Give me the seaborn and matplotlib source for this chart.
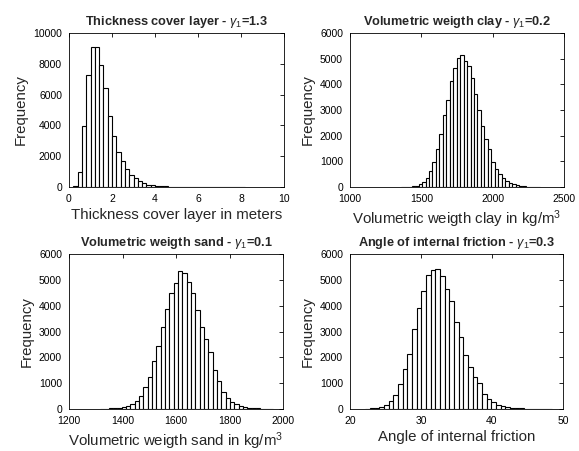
import numpy as np
import pandas as pd
import matplotlib
matplotlib.use("Agg")
import matplotlib.pyplot as plt
import seaborn as sns

# ---------------- data ----------------
# Thickness cover layer (m): 40 bins, start 0.2, width 0.2
thick_start, thick_width = 0.2, 0.2
thick_counts = [60, 950, 3950, 7250, 9080, 9080, 7950, 6430, 4580, 3320,
                2270, 1710, 1200, 790, 560, 360, 240, 160, 100, 70,
                45, 35, 25, 20, 15, 12, 10, 5, 3, 8,
                2, 6, 5, 4, 3, 1, 0, 0, 0, 4]

# Volumetric weight clay (kg/m3): 40 bins, start 1360, width 24.25
clay_start, clay_width = 1360, 24.25
clay_counts = [5, 8, 12, 25, 50, 104, 195, 338, 623, 961,
               1494, 2052, 2818, 3377, 4130, 4649, 5038, 5155, 4909, 4701,
               4259, 3611, 3013, 2370, 1870, 1490, 980, 705, 494, 338,
               234, 169, 104, 65, 30, 22, 15, 10, 8, 5]

# Volumetric weight sand (kg/m3): 40 bins, start 1316, width 16.2
sand_start, sand_width = 1316, 16.2
sand_counts = [13, 13, 26, 39, 52, 90, 129, 181, 310, 503,
               839, 1226, 1845, 2438, 3160, 3857, 4502, 4889, 5328, 5276,
               4915, 4502, 3818, 3160, 2696, 2219, 1496, 1100, 650, 420,
               280, 190, 120, 80, 50, 30, 20, 15, 10, 8]

# Angle of internal friction (deg): 40 bins, start 22.15, width 0.658
phi_start, phi_width = 22.15, 0.658
phi_counts = [10, 20, 30, 90, 155, 320, 540, 980, 1560, 2115,
              3083, 3909, 4580, 5199, 5380, 5418, 5147, 4657, 4192, 3367,
              2800, 2077, 1613, 1250, 1000, 580, 400, 260, 160, 100,
              70, 55, 35, 25, 15, 10, 8, 5, 3, 2]

titles = [r"Thickness cover layer - $\gamma_1$=1.3",
          r"Volumetric weigth clay - $\gamma_1$=0.2",
          r"Volumetric weigth sand - $\gamma_1$=0.1",
          r"Angle of internal friction - $\gamma_1$=0.3"]
xlabels = ["Thickness cover layer in meters",
           r"Volumetric weigth clay in kg/m$^3$",
           r"Volumetric weigth sand in kg/m$^3$",
           "Angle of internal friction"]
xlims = [(0, 10), (1000, 2500), (1200, 2000), (20, 50)]
xticks = [[0, 2, 4, 6, 8, 10], [1000, 1500, 2000, 2500],
          [1200, 1400, 1600, 1800, 2000], [20, 30, 40, 50]]
ylims = [(0, 10000), (0, 6000), (0, 6000), (0, 6000)]
yticks = [[0, 2000, 4000, 6000, 8000, 10000],
          [0, 1000, 2000, 3000, 4000, 5000, 6000],
          [0, 1000, 2000, 3000, 4000, 5000, 6000],
          [0, 1000, 2000, 3000, 4000, 5000, 6000]]

series = [(thick_start, thick_width, thick_counts),
          (clay_start, clay_width, clay_counts),
          (sand_start, sand_width, sand_counts),
          (phi_start, phi_width, phi_counts)]

# ---------------- style ----------------
sns.set_theme(style="white")
plt.rcParams["font.family"] = ["Liberation Sans", "DejaVu Sans"]
plt.rcParams["mathtext.fontset"] = "custom"
plt.rcParams["mathtext.rm"] = "Liberation Sans"
plt.rcParams["mathtext.it"] = "Liberation Sans:italic"
plt.rcParams["mathtext.bf"] = "Liberation Sans:bold"

W, H = 579, 451
fig = plt.figure(figsize=(W / 100, H / 100), dpi=100)
fig.patch.set_facecolor("white")

# axes boxes in pixels: (left, top, right, bottom)
boxes = [(69, 33, 284, 187), (350, 33, 564, 187),
         (69, 254, 283, 409), (350, 254, 563, 409)]

for i, ((start, width, counts), box) in enumerate(zip(series, boxes)):
    l, t, r, b = box
    ax = fig.add_axes([l / W, 1 - b / H, (r - l) / W, (b - t) / H])
    n = len(counts)
    edges = [float(start + width * k) for k in range(n + 1)]
    centers = [(edges[k] + edges[k + 1]) / 2 for k in range(n)]
    df = pd.DataFrame({"x": centers, "count": [float(c) for c in counts]})
    sns.histplot(data=df, x="x", weights="count", bins=edges, ax=ax,
                 stat="count", color="white", edgecolor="black",
                 linewidth=0.8, alpha=1.0)
    ax.set_xlim(*xlims[i])
    ax.set_ylim(*ylims[i])
    ax.set_xticks(xticks[i])
    ax.set_yticks(yticks[i])
    ax.set_title(titles[i], fontsize=9.2, fontweight="bold", pad=6)
    ax.set_xlabel(xlabels[i], fontsize=10.8, labelpad=3)
    ax.set_ylabel("Frequency", fontsize=10.8, labelpad=4)
    ax.tick_params(direction="in", length=3, width=0.6, top=True, right=True,
                   labelsize=7.5, pad=5, colors="black")
    for s in ax.spines.values():
        s.set_visible(True)
        s.set_color("black")
        s.set_linewidth(0.6)
    ax.set_facecolor("white")

fig.savefig("out.png", dpi=100, facecolor="white")
